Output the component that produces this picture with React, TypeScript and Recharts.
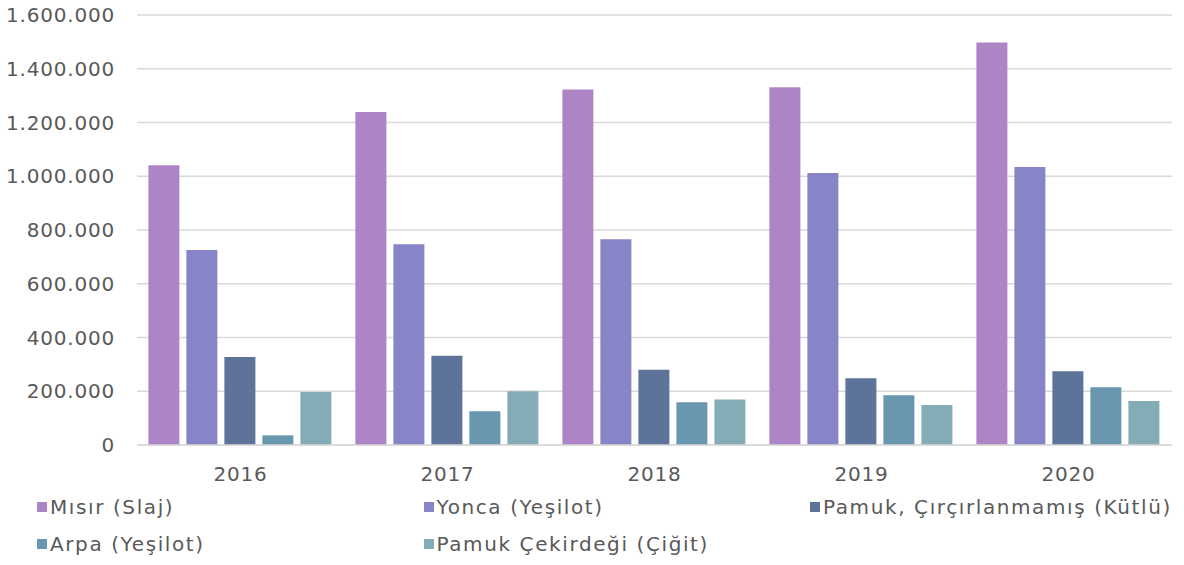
import { Bar, BarChart, CartesianGrid, XAxis, YAxis } from "recharts";

const YEARS = ["2016", "2017", "2018", "2019", "2020"];
const SERIES_NAMES = [
    "Mısır (Slaj)",
    "Yonca (Yeşilot)",
    "Pamuk, Çırçırlanmamış (Kütlü)",
    "Arpa (Yeşilot)",
    "Pamuk Çekirdeği (Çiğit)",
];
const MISIR = [1041000, 1239000, 1323000, 1331000, 1498000];
const YONCA = [726000, 747000, 766000, 1012000, 1034000];
const PAMUK = [327000, 332000, 280000, 248000, 274000];
const ARPA = [36000, 126000, 159000, 185000, 215000];
const CEKIRDEK = [197000, 200000, 169000, 149000, 164000];
const Y_TICKS = [0, 200000, 400000, 600000, 800000, 1000000, 1200000, 1400000, 1600000];

const COLORS = ["#AD84C6", "#8784C7", "#5D739A", "#6997AF", "#84ACB6"];
const KEYS = ["misir", "yonca", "pamuk", "arpa", "cekirdek"];

const data = YEARS.map((year, i) => ({
    year,
    misir: MISIR[i],
    yonca: YONCA[i],
    pamuk: PAMUK[i],
    arpa: ARPA[i],
    cekirdek: CEKIRDEK[i],
}));

const FONT = "'DejaVu Sans', sans-serif";
const TICK = { fill: "#595959", fontSize: 20, fontFamily: FONT, letterSpacing: 0.8 };

const fmt = (v: number) => String(v).replace(/\B(?=(\d{3})+(?!\d))/g, ".");

function LegendBox() {
    return (
        <div
            style={{
                position: "absolute",
                left: 37,
                top: 488,
                display: "flex",
                flexWrap: "wrap",
                width: 1160,
                fontFamily: FONT,
                fontSize: 20,
                letterSpacing: 1.6,
                color: "#595959",
            }}
        >
            {SERIES_NAMES.map((name, i) => (
                <div key={name} style={{ width: 386.5, height: 37, display: "flex", alignItems: "center", whiteSpace: "nowrap" }}>
                    <span style={{ width: 10, height: 10, background: COLORS[i], marginRight: 3, display: "inline-block", flexShrink: 0 }} />
                    <span>{name}</span>
                </div>
            ))}
        </div>
    );
}

export default function App() {
    return (
        <div style={{ position: "relative", width: 1184, height: 565 }}>
            <style>{`body{margin:0}`}</style>
            <BarChart
                width={1184}
                height={565}
                data={data}
                margin={{ top: 15, right: 12, left: 0, bottom: 90 }}
                barCategoryGap="5.5%"
                barGap={7}
            >
                <CartesianGrid vertical={false} stroke="#d9d9d9" strokeWidth={1.5} />
                <XAxis
                    dataKey="year"
                    tick={TICK}
                    axisLine={{ stroke: "#d9d9d9", strokeWidth: 1.5 }}
                    tickLine={false}
                    tickSize={0}
                    tickMargin={22}
                />
                <YAxis
                    width={137}
                    domain={[0, 1600000]}
                    ticks={Y_TICKS}
                    tickFormatter={fmt}
                    tick={TICK}
                    axisLine={false}
                    tickLine={false}
                    tickSize={0}
                    tickMargin={22}
                />
                {KEYS.map((k, i) => (
                    <Bar key={k} dataKey={k} name={SERIES_NAMES[i]} fill={COLORS[i]} isAnimationActive={false} />
                ))}
            </BarChart>
            <LegendBox />
        </div>
    );
}
